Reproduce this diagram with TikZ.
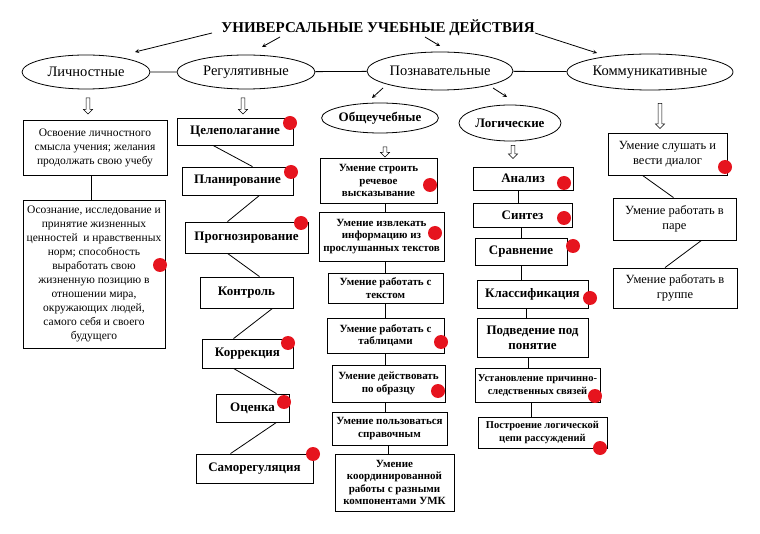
\documentclass[tikz,border=0pt]{standalone}
\usepackage{fontspec}
\setmainfont{Liberation Serif}
\usetikzlibrary{arrows,calc,positioning,shapes.geometric,shapes.arrows}
\definecolor{dotred}{RGB}{230,20,30}
\tikzset{%
    >=stealth,
    ell/.style={ellipse,draw,inner sep=0pt,font=\fontsize{14.5}{16}\selectfont},
    bell/.style={ell,font=\bfseries\fontsize{13}{15}\selectfont},
    box/.style={rectangle,draw,inner sep=0pt,align=center},
    lbox/.style={box,font=\fontsize{11.5}{14}\selectfont},
    rbox/.style={box,font=\bfseries\fontsize{13}{15}\selectfont},
    obox/.style={box,font=\bfseries\fontsize{11}{12.5}\selectfont},
    sbox/.style={box,font=\bfseries\fontsize{10.5}{13}\selectfont},
    kbox/.style={box,font=\fontsize{12.5}{15}\selectfont},
    sz/.style 2 args={minimum width=#1,minimum height=#2},
    dot/.style={circle,fill=dotred,minimum size=14pt,inner sep=0pt},
    hol/.style={single arrow,draw,shape border rotate=270,inner sep=1.5pt,minimum width=9pt,
        single arrow head extend=2.5pt,single arrow head indent=0pt,line width=.6pt}
}

\begin{document}
\begin{tikzpicture}[x=1pt,y=-1pt,line width=.8pt]
\useasboundingbox (0,0) rectangle (760,534);
\node [inner sep=0pt,font=\bfseries\fontsize{15}{18}\selectfont] (title) at (378,28) {УНИВЕРСАЛЬНЫЕ УЧЕБНЫЕ ДЕЙСТВИЯ};
%%%%% groups
\node [ell,sz={128}{34}] (lich) at (86,72) {Личностные};
\node [ell,sz={138}{34}] (reg) at (246,72) {Регулятивные};
\node [ell,sz={146}{38}] (pozn) at (440,71) {Познавательные};
\node [ell,sz={166}{36}] (komm) at (650,72) {Коммуникативные};
\node [bell,sz={116}{30}] (obsh) at (380,118) {Общеучебные};
\node [bell,sz={102}{36}] (logi) at (510,123) {Логические};
\draw (lich) -- (reg) (reg) -- (pozn) (pozn) -- (komm);
\draw[->] ($(title)+(-166,5)$) -- ($(lich)+(49,-20)$);
\draw[->] ($(title)+(-98,9)$) -- ($(reg)+(16,-25)$);
\draw[->] ($(title)+(47,9)$) -- ($(pozn)+(0,-25)$);
\draw[->] ($(title)+(157,5)$) -- ($(komm)+(-53,-19)$);
\draw[->] ($(pozn)+(-57,17)$) -- ($(obsh)+(-8,-20)$);
\draw[->] ($(pozn)+(53,17)$) -- ($(logi)+(-3,-26)$);
\node [hol,minimum height=16pt] (h-lich) at (88,105) {};
\node [hol,minimum height=16pt] (h-reg) at (243,105) {};
\node [hol,minimum height=25pt] (h-komm) at (660,115) {};
\node [hol,minimum height=10pt] (h-obsh) at (385,151) {};
\node [hol,minimum height=13pt] (h-logi) at (513,151) {};
%%%%% personal
\node [lbox,sz={144}{55}] (l1) at (95,147.5) {Освоение личностного\\смысла учения; желания\\продолжать свою учебу};
\node [lbox,sz={142}{148}] (l2) at (94,274) {Осознание, исследование и\\принятие жизненных\\ценностей \ и нравственных\\норм; способность\\выработать свою\\жизненную позицию в\\отношении мира,\\окружающих людей,\\самого себя и своего\\будущего};
\draw ([xshift=-4pt]l1.south) -- ([xshift=-4pt]l1.south |- l2.north);
%%%%% regulative
\node [rbox,sz={116}{27}] (r1) at (235,131.5) {Целеполагание};
\node [rbox,sz={111}{28}] (r2) at (237.5,181) {Планирование};
\node [rbox,sz={123}{31}] (r3) at (246.5,237.5) {Прогнозирование};
\node [rbox,sz={93}{31}] (r4) at (246.5,292.5) {Контроль};
\node [rbox,sz={91}{29}] (r5) at (247.5,353.5) {Коррекция};
\node [rbox,sz={73}{28}] (r6) at (252.5,408) {Оценка};
\node [rbox,sz={117}{29}] (r7) at (254.5,468.5) {Саморегуляция};
\draw ([xshift=-22pt]r1.south) -- ([xshift=15pt]r2.north)
      ([xshift=22pt]r2.south) -- ([xshift=-19pt]r3.north)
      ([xshift=-19pt]r3.south) -- ([xshift=13pt]r4.north)
      ([xshift=26pt]r4.south) -- ([xshift=-14pt]r5.north)
      ([xshift=-14pt]r5.south) -- ([xshift=24pt]r6.north)
      ([xshift=24pt]r6.south) -- ([xshift=-24pt]r7.north);
%%%%% general learning
\node [obox,sz={117}{45}] (o1) at (378.5,180.5) {Умение строить\\речевое\\высказывание};
\node [obox,sz={125}{49}] (o2) at (381.5,236.5) {Умение извлекать\\информацию из\\прослушанных текстов};
\node [obox,sz={115}{30}] (o3) at (385.5,288) {Умение работать с\\текстом};
\node [obox,sz={117}{35}] (o4) at (385.5,335.5) {Умение работать с\\таблицами};
\node [obox,sz={113}{37}] (o5) at (388.5,383.5) {Умение действовать\\по образцу};
\node [obox,sz={115}{33}] (o6) at (389.5,428.5) {Умение пользоваться\\справочным};
\node [obox,sz={119}{57}] (o7) at (394.5,482.5) {Умение\\координированной\\работы с разными\\компонентами УМК};
\draw (o1.south -| o3.south) -- (o2.north -| o3.south)
      (o2.south -| o3.south) -- (o3.north)
      (o3.south) -- (o4.north -| o3.south)
      (o4.south -| o3.south) -- (o5.north -| o3.south)
      (o5.south -| o3.south) -- (o6.north -| o3.south)
      (o6.south -| o5.south) -- (o7.north -| o5.south);
%%%%% logical
\node [rbox,sz={100}{23}] (g1) at (523,178.5) {Анализ};
\node [rbox,sz={99}{24}] (g2) at (522.5,215) {Синтез};
\node [rbox,sz={92}{27}] (g3) at (521,251.5) {Сравнение};
\node [rbox,sz={111}{28}] (g4) at (532.5,294) {Классификация};
\node [rbox,sz={111}{39}] (g5) at (532.5,337.5) {Подведение под\\понятие};
\node [sbox,sz={125}{34}] (g6) at (537.5,385) {Установление причинно-\\следственных связей};
\node [sbox,sz={129}{31}] (g7) at (542.5,432.5) {Построение логической\\цепи рассуждений};
\draw ([xshift=-5pt]g1.south) -- ([xshift=-5pt]g1.south |- g2.north)
      (g2.south -| g3.north) -- (g3.north)
      (g3.south) -- (g3.south |- g4.north)
      ([xshift=-6.5pt]g4.south) -- ([xshift=-6.5pt]g4.south |- g5.north)
      ([xshift=-4.5pt]g5.south) -- ([xshift=-4.5pt]g5.south |- g6.north)
      ([xshift=-6.5pt]g6.south) -- ([xshift=-6.5pt]g6.south |- g7.north);
%%%%% communicative
\node [kbox,sz={119}{42}] (k1) at (667.5,154) {Умение слушать и\\вести диалог};
\node [kbox,sz={123}{42}] (k2) at (674.5,219) {Умение работать в\\паре};
\node [kbox,sz={124}{40}] (k3) at (675,288) {Умение работать в\\группе};
\draw ([xshift=-25pt]k1.south) -- ([xshift=-1pt]k2.north)
      ([xshift=27pt]k2.south) -- ([xshift=-10pt]k3.north);
%%%%% marks
\node [dot] (d-l2) at (160,265) {};
\node [dot] (d-r1) at (290,123) {};
\node [dot] (d-r2) at (291,172) {};
\node [dot] (d-r3) at (301,223) {};
\node [dot] (d-r5) at (288,343) {};
\node [dot] (d-r6) at (284,402) {};
\node [dot] (d-r7) at (313,454) {};
\node [dot] (d-o1) at (430,185) {};
\node [dot] (d-o2) at (435,233) {};
\node [dot] (d-o4) at (441,342) {};
\node [dot] (d-o5) at (438,391) {};
\node [dot] (d-g1) at (564,183) {};
\node [dot] (d-g2) at (564,218) {};
\node [dot] (d-g3) at (573,246) {};
\node [dot] (d-g4) at (590,298) {};
\node [dot] (d-g6) at (595,396) {};
\node [dot] (d-g7) at (600,448) {};
\node [dot] (d-k1) at (725,167) {};
\end{tikzpicture}
\end{document}
